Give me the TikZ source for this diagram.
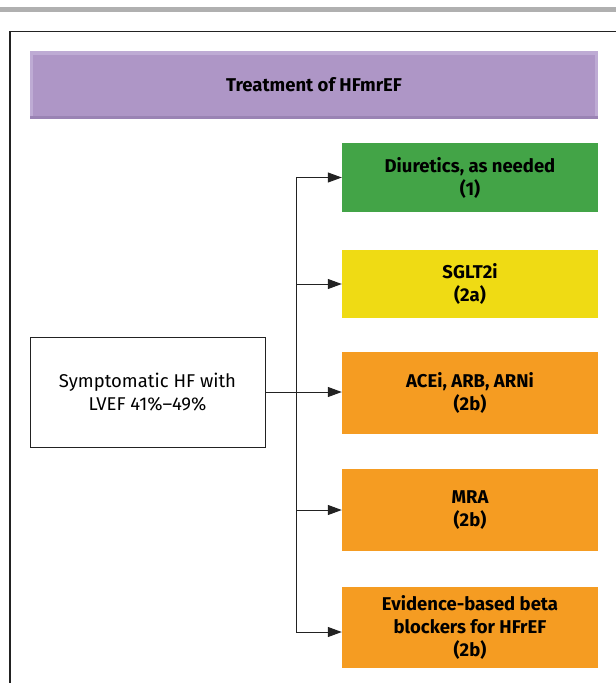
\documentclass[tikz,border=0pt]{standalone}
\usepackage{fontspec}
\setmainfont{Fira Sans}
\usetikzlibrary{arrows.meta}
\definecolor{cgreen}{HTML}{43A447}
\definecolor{cyellow}{HTML}{EFDB14}
\definecolor{corange}{HTML}{F59C22}
\definecolor{cpurple}{HTML}{AE96C6}
\definecolor{cpurplelt}{HTML}{BEABD4}
\definecolor{cpurpledk}{HTML}{9A83B4}
\definecolor{cbar}{HTML}{B0B0B0}
\definecolor{cline}{HTML}{222222}
\tikzset{
  tbox/.style={rectangle, inner sep=0pt, minimum width=256pt, align=center,
    font=\fontsize{18.5}{23}\selectfont\bfseries, text=black},
  conn/.style={draw=cline, line width=1pt},
  arr/.style={conn, -{Triangle[length=14pt,width=10pt]}},
}
\begin{document}
\begin{tikzpicture}[x=1pt,y=-1pt]
\useasboundingbox (0,0) rectangle (616,683);
% top grey bar
\fill[cbar] (0,7) rectangle (616,12);
% outer frame
\draw[cline, line width=1.5pt] (10,683) -- (10,31.5) -- (616,31.5);
% title with bevel
\fill[cpurpledk] (30,51) rectangle (598,119);
\fill[cpurplelt] (30,51) rectangle (598,116);
\fill[cpurple] (33,55) rectangle (595,116);
\node[inner sep=0pt, font=\fontsize{18.5}{22}\selectfont\bfseries] (title) at (314,85) {Treatment of HFmrEF};
% left box
\node[draw=cline, line width=0.8pt, fill=white, minimum width=235pt, minimum height=110pt, inner sep=0pt,
  align=center, font=\fontsize{18.5}{23}\selectfont] (src) at (147.5,392) {Symptomatic HF with\\LVEF 41\%–49\%};
% right boxes
\node[tbox, fill=cgreen, minimum height=69pt] (diu) at (470,177.5) {Diuretics, as needed\\(1)};
\node[tbox, fill=cyellow, minimum height=68pt] (sglt) at (470,284) {SGLT2i\\(2a)};
\node[tbox, fill=corange, minimum height=82pt] (ace) at (470,393) {ACEi, ARB, ARNi\\(2b)};
\node[tbox, fill=corange, minimum height=82pt] (mra) at (470,510) {MRA\\(2b)};
\node[tbox, fill=corange, minimum height=81pt] (beta) at (470,627.5) {Evidence-based beta\\blockers for HFrEF\\(2b)};
% connectors
\coordinate (jt) at (296,177.5);
\coordinate (jb) at (296,632);
\draw[conn] (jt) -- (jb);
\draw[arr] (src.east) -- (src.east -| ace.west);
\draw[arr] (jt) -- (diu.west);
\draw[arr] (296,284) coordinate (j2) -- (sglt.west);
\draw[arr] (296,510) coordinate (j4) -- (mra.west);
\draw[arr] (jb) -- (jb -| beta.west);
\end{tikzpicture}
\end{document}
